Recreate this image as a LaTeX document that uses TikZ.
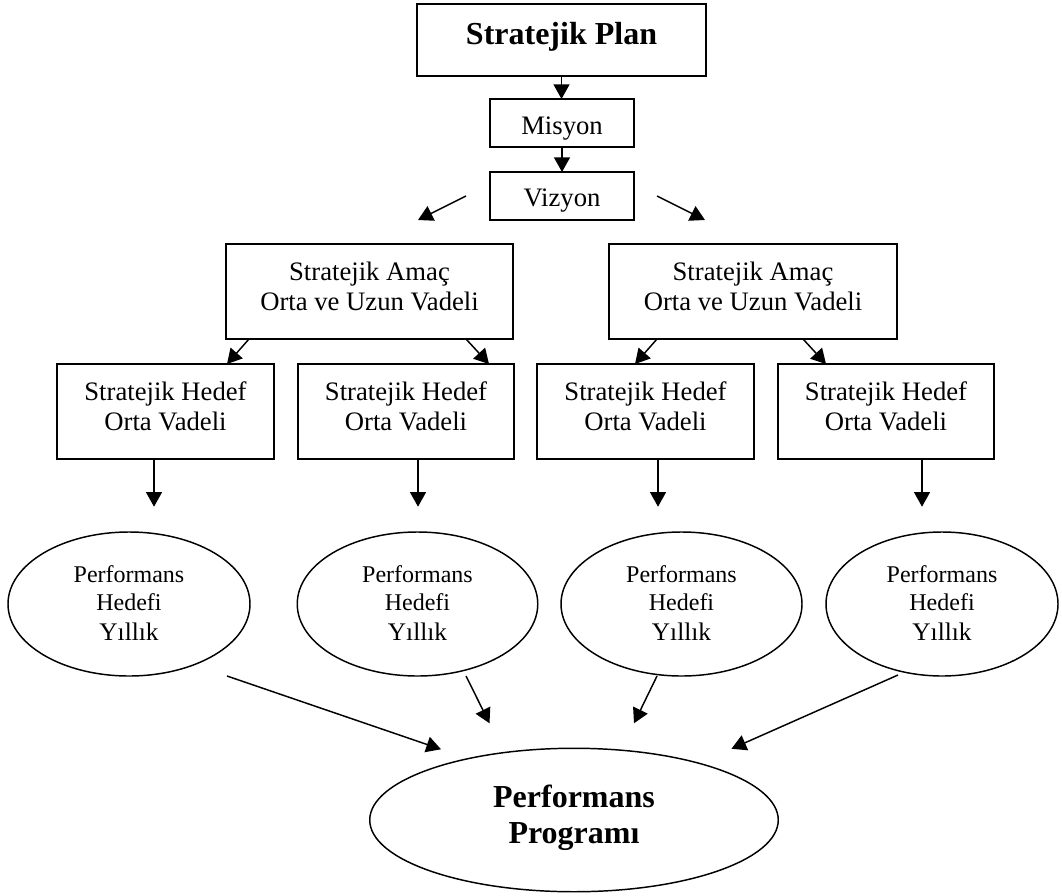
\documentclass[tikz,border=0pt]{standalone}
\usepackage{fontspec}
\setmainfont{Liberation Serif}
\usetikzlibrary{arrows.meta,shapes.geometric,calc}
\begin{document}
\begin{tikzpicture}[x=0.75pt,y=-0.75pt,
  box/.style={draw,line width=1.1pt,rectangle,inner sep=0pt,outer sep=0pt},
  oval/.style={draw,line width=1.1pt,ellipse,inner sep=0pt,outer sep=0pt},
  lbl/.style={anchor=base,inner sep=0pt,font=\fontsize{20}{24}\selectfont},
  lblb/.style={anchor=base,inner sep=0pt,font=\fontsize{24}{28}\selectfont\bfseries},
  lbls/.style={anchor=base,inner sep=0pt,font=\fontsize{18}{22}\selectfont},
  lbly/.style={anchor=base,inner sep=0pt,font=\fontsize{19}{22}\selectfont},
  arr/.style={line width=1.1pt,-{Triangle[length=11pt,width=12pt]}}]
\useasboundingbox (0,0) rectangle (1062,895);

% boxes
\node[box,minimum width=216.75pt,minimum height=54pt] (plan) at (561.5,40) {};
\node[box,minimum width=108pt,minimum height=36pt] (mis) at (562,123) {};
\node[box,minimum width=108pt,minimum height=36pt] (viz) at (562,196) {};
\node[box,minimum width=215.25pt,minimum height=71.25pt] (am1) at (369.5,291.5) {};
\node[box,minimum width=216pt,minimum height=71.25pt] (am2) at (753,291.5) {};
\node[box,minimum width=162.75pt,minimum height=71.25pt] (h1) at (165.5,411.5) {};
\node[box,minimum width=162pt,minimum height=71.25pt] (h2) at (406,411.5) {};
\node[box,minimum width=162.75pt,minimum height=71.25pt] (h3) at (645.5,411.5) {};
\node[box,minimum width=162pt,minimum height=71.25pt] (h4) at (886,411.5) {};

% ellipses
\node[oval,minimum width=181.5pt,minimum height=108pt] (e1) at (129,604) {};
\node[oval,minimum width=180.4pt,minimum height=108pt] (e2) at (417.5,604) {};
\node[oval,minimum width=180.75pt,minimum height=108pt] (e3) at (681.5,604) {};
\node[oval,minimum width=174pt,minimum height=108pt] (e4) at (942,604) {};
\node[oval,minimum width=306.4pt,minimum height=107.6pt] (big) at (574,820) {};

% texts
\node[lblb] (tplan) at (561.5,45) {Stratejik Plan};
\node[lbl] (tmis) at (562,135) {Misyon};
\node[lbl] (tviz) at (562,206.7) {Vizyon};
\node[lbl] (tam1a) at (369.5,280) {Stratejik Amaç};
\node[lbl] (tam1b) at (369.5,310) {Orta ve Uzun Vadeli};
\node[lbl] (tam2a) at (753,280) {Stratejik Amaç};
\node[lbl] (tam2b) at (753,310) {Orta ve Uzun Vadeli};
\foreach \n/\x in {h1/165.5,h2/406,h3/645.5,h4/886}{
  \node[lbl] (t\n a) at (\x,400) {Stratejik Hedef};
  \node[lbl] (t\n b) at (\x,430) {Orta Vadeli};
}
\foreach \n/\x in {e1/129,e2/417.5,e3/681.5,e4/942}{
  \node[lbls] (t\n a) at (\x,582.3) {Performans};
  \node[lbls] (t\n b) at (\x,610) {Hedefi};
  \node[lbly] (t\n c) at (\x,640) {Yıllık};
}
\node[lblb] (tbiga) at (574,807) {Performans};
\node[lblb] (tbigb) at (574,843) {Programı};

% connectors
\draw[arr] (plan.south) -- (plan.south |- mis.north);
\draw[arr] (mis.south) -- (mis.south |- viz.north);
\draw[arr] ($(viz.west)+(-24,0)$) -- ($(am1.north)+(48.5,-24)$);
\draw[arr] ($(viz.east)+(23,0)$) -- ($(am2.north)+(-48,-24)$);

\draw[arr] ($(am1.south west)+(23,0)$) -- ($(h1.north)+(61.5,0)$);
\draw[arr] ($(am1.south east)+(-47,0)$) -- ($(h2.north)+(83,0)$);
\draw[arr] ($(am2.south west)+(48,0)$) -- ($(h3.north)+(-10.5,0)$);
\draw[arr] ($(am2.south east)+(-94,0)$) -- ($(h4.north)+(-60,0)$);

\draw[arr] ($(h1.south)+(-11.5,0)$) -- ($(e1.north)+(25,-25.3)$);
\draw[arr] ($(h2.south)+(12,0)$) -- ($(e2.north)+(0.5,-25.3)$);
\draw[arr] ($(h3.south)+(12.5,0)$) -- ($(e3.north)+(-23.5,-25.3)$);
\draw[arr] ($(h4.south)+(36,0)$) -- ($(e4.north)+(-20,-25.3)$);

\draw[arr] ($(e1.south)+(98,0)$) -- ($(big.north)+(-133,1)$);
\draw[arr] ($(e2.south)+(48.5,0)$) -- ($(big.north)+(-84.5,-25)$);
\draw[arr] ($(e3.south)+(-24.5,0)$) -- ($(big.north)+(60,-25)$);
\draw[arr] ($(e4.south)+(-44,-1)$) -- ($(big.north)+(157.5,0.5)$);
\end{tikzpicture}
\end{document}
